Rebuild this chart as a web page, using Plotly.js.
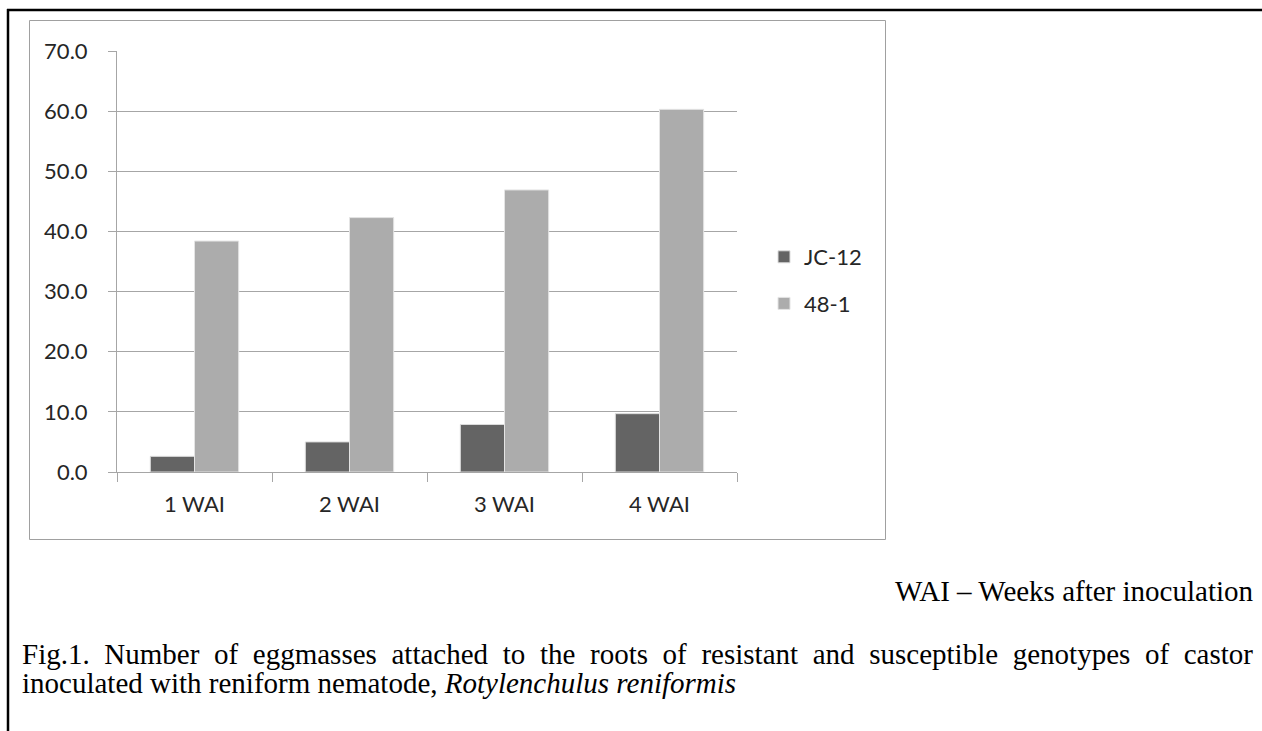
<!DOCTYPE html>
<html><head><meta charset="utf-8">
<script src="https://cdn.plot.ly/plotly-3.0.1.min.js"></script>
<style>
html,body{margin:0;padding:0;background:#fff;width:1262px;height:731px;overflow:hidden;}
#chart{position:absolute;left:0;top:0;width:1262px;height:731px;}
.cap{position:absolute;font-family:"Liberation Serif","Times New Roman",serif;font-size:29px;line-height:26px;color:#000;white-space:nowrap;}
</style></head><body>
<div id="chart"></div>
<div class="cap" id="note" style="right:9px;top:578px;">WAI – Weeks after inoculation</div>
<div class="cap" id="l1" style="left:22px;top:641px;width:1231px;text-align:justify;text-align-last:justify;white-space:normal;">Fig.1. Number of eggmasses attached to the roots of resistant and susceptible genotypes of castor</div>
<div class="cap" id="l2" style="left:22px;top:670px;">inoculated with reniform nematode, <i>Rotylenchulus reniformis</i></div>
<script>
// ---- data ----
const categories = ['1 WAI', '2 WAI', '3 WAI', '4 WAI'];
const seriesNames = ['JC-12', '48-1'];
const jc12Values = [2.6, 5.0, 7.9, 9.7];
const s481Values = [38.4, 42.3, 46.9, 60.3];
const yTickValues = [0, 10, 20, 30, 40, 50, 60, 70];
const yTickLabels = yTickValues.map(v => v.toFixed(1));

// ---- geometry helpers (plot area in page pixels) ----
const W = 1262, H = 731;
const L = 117, R = 737, T = 51, B = 472;
const px = x => (x - L) / (R - L);
const py = y => (B - y) / (B - T);

const tickFont = {family: 'Lato, "Open Sans", sans-serif', size: 22, color: '#262626'};
const gridCol = '#a6a6a6';

const traces = [
  {type: 'bar', name: seriesNames[0], x: categories, y: jc12Values, legendgroup: 'a',
   marker: {color: '#646464', line: {color: '#dcdcdc', width: 1}}, hoverinfo: 'x+y+name'},
  {type: 'bar', name: seriesNames[1], x: categories, y: s481Values, legendgroup: 'b',
   marker: {color: '#acacac', line: {color: '#e4e4e4', width: 1}}, hoverinfo: 'x+y+name'}
];

const layout = {
  width: W, height: H,
  margin: {l: L, r: W - R, t: T, b: H - B, pad: 0},
  paper_bgcolor: '#ffffff', plot_bgcolor: '#ffffff',
  barmode: 'group', bargap: 0.43, bargroupgap: 0,
  showlegend: true,
  legend: {x: px(764), xanchor: 'left', y: py(236), yanchor: 'top',
           font: tickFont, tracegroupgap: 15, bgcolor: 'rgba(0,0,0,0)', traceorder: 'grouped'},
  xaxis: {type: 'category', range: [-0.5, 3.5], tickson: 'boundaries', ticks: 'outside',
          ticklen: 9, tickcolor: gridCol, tickwidth: 1, showline: true, linecolor: gridCol, linewidth: 1,
          showgrid: false, tickfont: tickFont, ticklabelstandoff: 13, fixedrange: true},
  yaxis: {range: [0, 70], tickvals: yTickValues, ticktext: yTickLabels, ticks: 'outside',
          ticklen: 8, tickcolor: gridCol, tickwidth: 1, showline: true, linecolor: gridCol, linewidth: 1,
          showgrid: true, gridcolor: gridCol, gridwidth: 1, zeroline: false, tickfont: tickFont,
          ticklabelstandoff: 16, fixedrange: true},
  shapes: [
    // chart area box
    {type: 'rect', xref: 'paper', yref: 'paper', x0: px(29.5), x1: px(885.5), y0: py(20.5), y1: py(539.5),
     line: {color: '#a0a0a0', width: 1}, fillcolor: 'rgba(0,0,0,0)', layer: 'below'},
    // outer page frame (top and left)
    {type: 'line', xref: 'paper', yref: 'paper', x0: px(7), x1: px(1262), y0: py(10), y1: py(10),
     line: {color: '#000000', width: 2.5}},
    {type: 'line', xref: 'paper', yref: 'paper', x0: px(8), x1: px(8), y0: py(9), y1: py(731),
     line: {color: '#000000', width: 2.5}}
  ]
};

Plotly.newPlot('chart', traces, layout, {displayModeBar: false, staticPlot: true});
</script>
</body></html>
